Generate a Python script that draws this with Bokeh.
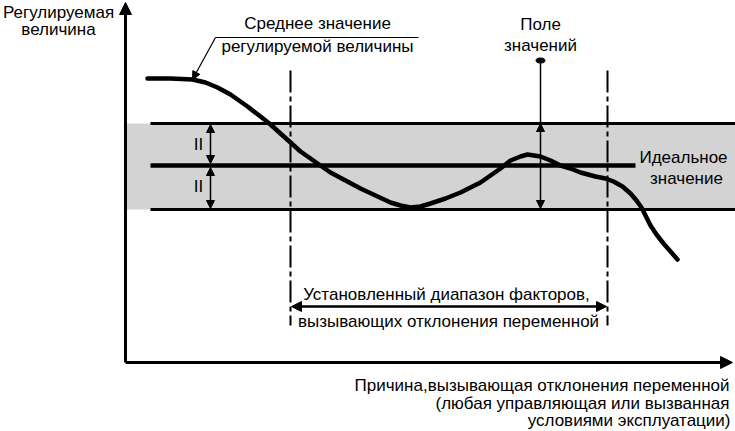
from bokeh.plotting import figure
from bokeh.models import Range1d, Arrow, NormalHead
from bokeh.core.properties import value
from bokeh.embed import file_html
from bokeh.resources import INLINE

# ---- data (diagram coordinates: x to the right, y downward, in drawing units) ----
curve_x = [147, 170, 192, 205, 217, 230, 247, 260, 270, 280, 290, 300, 310, 317, 330, 345, 360,
           375, 390, 400, 410, 420, 430, 445, 460, 470, 480, 490, 500, 510, 520, 527, 540, 550,
           560, 570, 580, 595, 605, 613, 622, 630, 636, 641, 645, 650, 656, 663, 670, 677]
curve_y = [78, 78, 79, 82, 87, 94, 106, 116, 124, 133, 142, 151, 158, 163, 172, 180, 188,
           195, 202, 205, 207, 206, 203, 198, 192, 187, 182, 175, 168, 160, 156, 154, 156, 160,
           165, 168, 172, 176, 178, 181, 186, 193, 200, 207, 215, 225, 234, 243, 251, 259]

upper_limit = 123
ideal_value = 165
lower_limit = 209
band_left, band_right = 125, 735
limits_start, limits_end = 150, 735
ideal_end = 635
factor_range = [290, 607]
field_x = 540

FONT = "Liberation Sans"
FS = "17px"

p = figure(width=735, height=431, output_backend="svg", toolbar_location=None,
           x_range=Range1d(0, 735), y_range=Range1d(431, 0),
           min_border=0, outline_line_color=None)
p.axis.visible = False
p.grid.visible = False
p.background_fill_color = "white"
p.border_fill_color = "white"

# gray tolerance band
p.quad(left=[band_left], right=[band_right], top=[upper_limit], bottom=[lower_limit],
       fill_color="#d3d3d3", line_color=None)

# limit lines
p.segment(x0=[limits_start, limits_start], x1=[limits_end, limits_end],
          y0=[upper_limit, lower_limit], y1=[upper_limit, lower_limit],
          line_color="black", line_width=3)
p.segment(x0=[limits_start], x1=[ideal_end], y0=[ideal_value], y1=[ideal_value],
          line_color="black", line_width=4.5)

# dash-dot verticals
p.segment(x0=factor_range, x1=factor_range, y0=[70, 70], y1=[325, 325],
          line_color="black", line_width=2, line_dash="22 4 5 4")

# curve
p.line(curve_x, curve_y, line_color="black", line_width=4.5, line_join="round", line_cap="round")

# axes
p.segment(x0=[125, 125], x1=[125, 722], y0=[362, 362], y1=[12, 362],
          line_color="black", line_width=3)
p.add_layout(Arrow(end=NormalHead(size=12, fill_color="black", line_color="black"),
                   x_start=125, y_start=40, x_end=125, y_end=2, line_width=3))
p.add_layout(Arrow(end=NormalHead(size=12, fill_color="black", line_color="black"),
                   x_start=700, y_start=362, x_end=732, y_end=362, line_width=3))


def darrow(x0, y0, x1, y1, lw=1.5, size=8):
    p.add_layout(Arrow(end=NormalHead(size=size, fill_color="black", line_color="black", line_width=1),
                       start=NormalHead(size=size, fill_color="black", line_color="black", line_width=1),
                       x_start=x0, y_start=y0, x_end=x1, y_end=y1, line_width=lw))


# "II" double arrows
darrow(210, upper_limit + 1, 210, ideal_value - 2)
darrow(210, ideal_value + 2, 210, lower_limit - 1)

# field of values arrow
p.segment(x0=[field_x], x1=[field_x], y0=[60], y1=[upper_limit], line_color="black", line_width=1.5)
darrow(field_x, upper_limit, field_x, lower_limit - 1)
p.ellipse(x=[field_x], y=[60], width=9, height=5, fill_color="black", line_color="black")

# factor range double arrow
darrow(factor_range[0] + 1, 306, factor_range[1] - 1, 306, lw=2.5, size=10)

# leader for mean value
p.segment(x0=[215], x1=[418], y0=[37], y1=[37], line_color="black", line_width=1.2)
p.add_layout(Arrow(end=NormalHead(size=8, fill_color="black", line_color="black", line_width=1),
                   x_start=215, y_start=37, x_end=192, y_end=79, line_width=1.2))


def txt(x, y, s, align="center", size=FS):
    p.text(x=[x], y=[y], text=[s], text_font=value(FONT), text_font_size=size,
           text_align=align, text_baseline="middle", text_color="black")


txt(58, 12, "Регулируемая")
txt(58, 29, "величина")
txt(317, 23, "Среднее значение")
txt(317, 46, "регулируемой величины")
txt(540, 24, "Поле")
txt(540, 45, "значений")
txt(683, 157, "Идеальное")
txt(686, 178, "значение")
txt(198, 144, "II")
txt(198, 186, "II")
txt(446, 294, "Установленный диапазон факторов,")
txt(448, 321, "вызывающих отклонения переменной")
txt(729, 385, "Причина,вызывающая отклонения переменной", "right")
txt(729, 403, "(любая управляющая или вызванная", "right")
txt(730, 420, "условиями эксплуатации)", "right")

open("out.html", "w").write(file_html(p, INLINE))
